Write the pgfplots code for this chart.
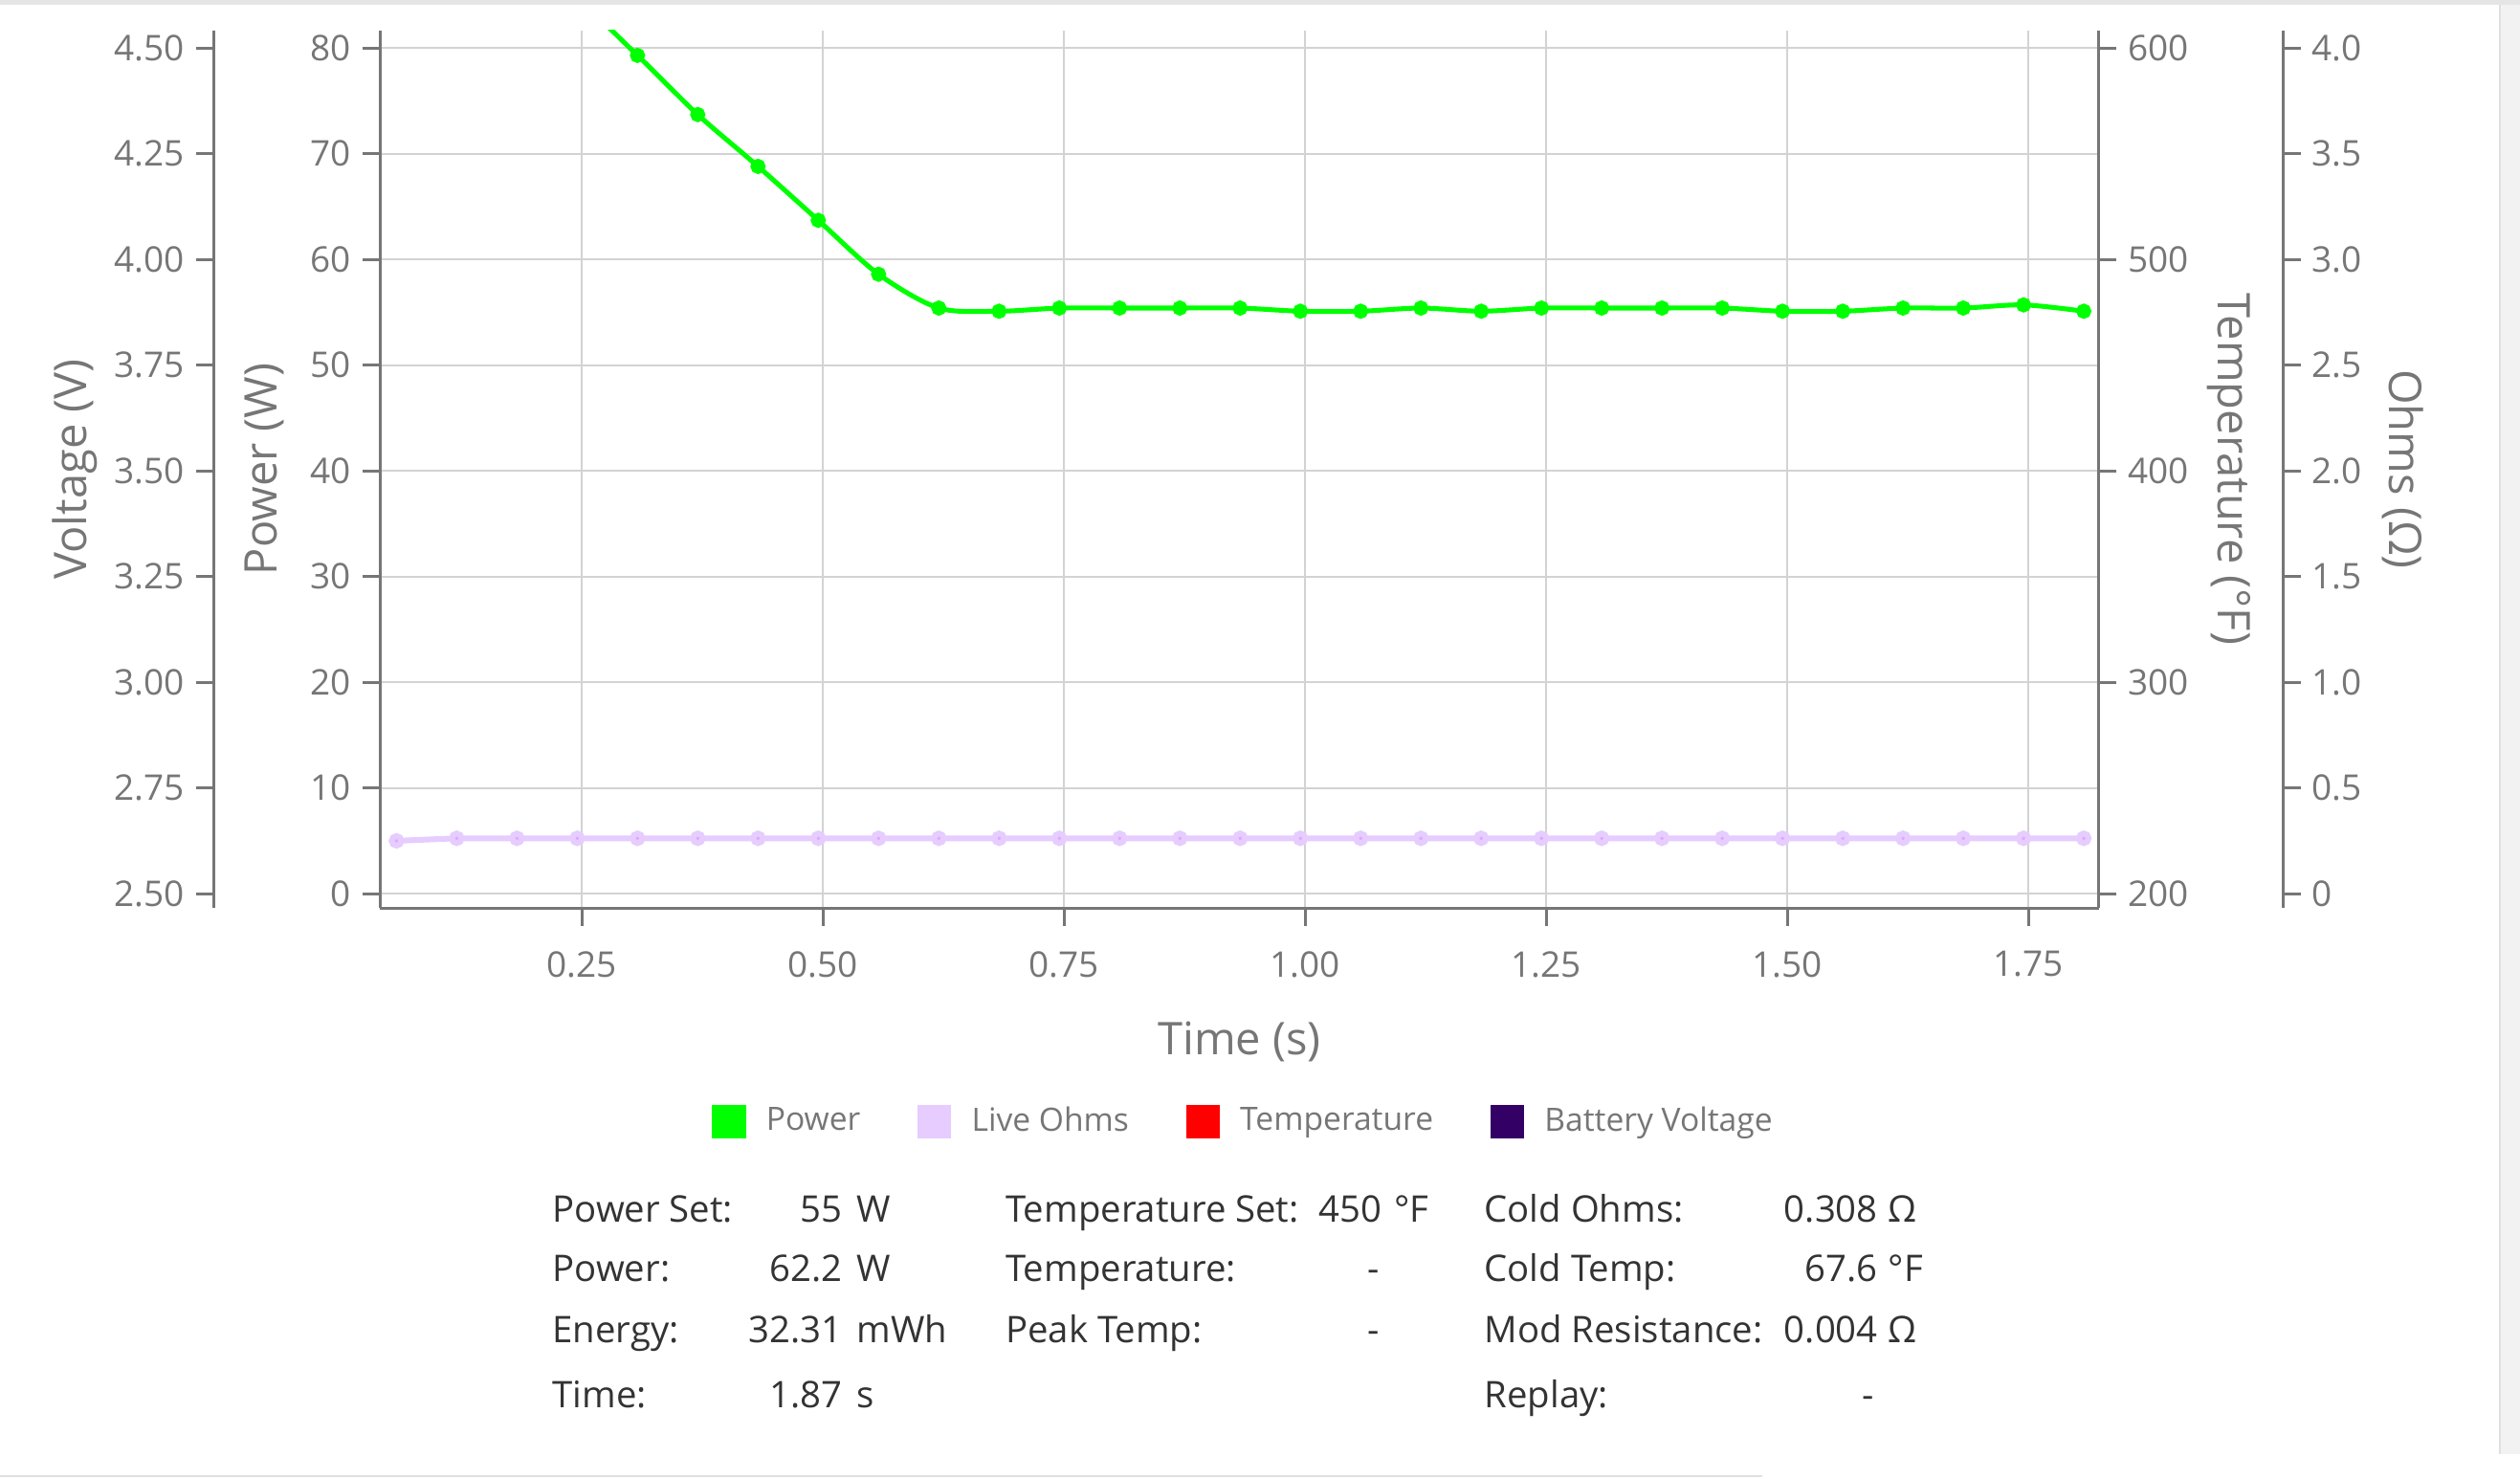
\documentclass[border=0pt]{standalone}
\usepackage{fontspec}
\setmainfont{Open Sans}
\usepackage{pgfplots}
\pgfplotsset{compat=1.18}
\definecolor{axgray}{HTML}{767676}
\definecolor{gridgray}{HTML}{D3D3D3}
\definecolor{pgreen}{HTML}{00FF00}
\definecolor{ohmline}{HTML}{E6CCFF}
\definecolor{ohmmark}{HTML}{D7ABFF}
\definecolor{tred}{HTML}{FF0000}
\definecolor{bvolt}{HTML}{330066}
\definecolor{infotext}{HTML}{333333}
\newcommand{\tickfont}{\fontsize{11}{13}\selectfont}
\newcommand{\legfont}{\fontsize{10}{12}\selectfont}
\newcommand{\labfont}{\fontsize{14}{16}\selectfont}
\newcommand{\infofont}{\fontsize{11.4}{13}\selectfont}

\pgfplotsset{
  myaxis/.style={
    scale only axis, width=534.75pt, height=273pt,
    xmin=0.0406, xmax=1.8233,
    anchor=south west,
    axis line style={axgray, line width=0.9pt},
    every tick/.style={axgray, line width=0.9pt},
    tick align=outside, major tick length=5.5pt,
    ticklabel style={font=\tickfont, text=axgray},
    /pgf/number format/assume math mode=true,
  },
}

\pgfplotstableread{
t P
0.0576 89.0
0.1201 89.0
0.1826 88.0
0.2451 84.6
0.3076 79.3
0.3701 73.7
0.4326 68.8
0.4951 63.7
0.5576 58.6
0.6201 55.4
0.6826 55.1
0.7451 55.4
0.8076 55.4
0.8701 55.4
0.9326 55.4
0.9951 55.1
1.0576 55.1
1.1201 55.4
1.1826 55.1
1.2451 55.4
1.3076 55.4
1.3701 55.4
1.4326 55.4
1.4951 55.1
1.5576 55.1
1.6201 55.4
1.6826 55.4
1.7451 55.7
1.8076 55.1
}\powertable

\pgfplotstableread{
t R
0.0576 0.250
0.1201 0.262
0.1826 0.262
0.2451 0.262
0.3076 0.262
0.3701 0.262
0.4326 0.262
0.4951 0.262
0.5576 0.262
0.6201 0.262
0.6826 0.262
0.7451 0.262
0.8076 0.262
0.8701 0.262
0.9326 0.262
0.9951 0.262
1.0576 0.262
1.1201 0.262
1.1826 0.262
1.2451 0.262
1.3076 0.262
1.3701 0.262
1.4326 0.262
1.4951 0.262
1.5576 0.262
1.6201 0.262
1.6826 0.262
1.7451 0.262
1.8076 0.262
}\ohmstable

\begin{document}
\begin{tikzpicture}
\path[use as bounding box] (-118.25pt,-177.5pt) rectangle (665.75pt,282.5pt);
% window frame artifacts
\fill[black!10] (-118.25pt,282.5pt) rectangle (665.75pt,281pt);
\fill[black!5] (659.5pt,-170pt) rectangle (665.75pt,281pt);
\draw[black!12, line width=0.8pt] (659.5pt,-170pt) -- (659.5pt,281pt);
\draw[black!12, line width=0.8pt] (-118.25pt,-176.8pt) -- (430pt,-176.8pt);

% Power axis (main)
\begin{axis}[myaxis, at={(0,0)},
  axis x line*=bottom, axis y line*=left,
  ymin=-1.35, ymax=81.65, ytick={0,10,...,80},
  xtick={0.25,0.5,0.75,1,1.25,1.5,1.75},
  xticklabel style={yshift=-4.5pt, /pgf/number format/.cd, fixed, fixed zerofill, precision=2},
  grid=major, grid style={gridgray, line width=0.6pt},
  xlabel={Time (s)}, ylabel={Power (W)},
  every axis y label/.style={at={(axis description cs:-0.0671,0.5)}, rotate=90, anchor=center, font=\labfont, text=axgray},
  every axis x label/.style={at={(axis description cs:0.5,-0.1675)}, anchor=base, font=\labfont, text=axgray},
  legend image code/.code={\fill[#1] (0pt,-5.25pt) rectangle (10.5pt,5.25pt);},
  legend columns=4,
  legend style={at={(axis description cs:0.5035,-0.2435)}, anchor=center, draw=none, fill=none,
    font=\legfont, text=axgray,
    /tikz/every odd column/.append style={column sep=4.3pt},
    /tikz/every even column/.append style={column sep=15.8pt}},
]
\addplot[pgreen, line width=1.5pt, smooth, mark=*, mark size=1.6pt, forget plot]
  table[x=t, y=P] {\powertable};
\addlegendimage{fill=pgreen, draw=none}
\addlegendentry{Power}
\addlegendimage{fill=ohmline, draw=none}
\addlegendentry{Live Ohms}
\addlegendimage{fill=tred, draw=none}
\addlegendentry{Temperature}
\addlegendimage{fill=bvolt, draw=none}
\addlegendentry{Battery Voltage}
\end{axis}

% Ohms data axis (hidden)
\begin{axis}[myaxis, at={(0,0)}, hide axis,
  ymin=-0.0675, ymax=4.0825]
\addplot[ohmline, line width=1.8pt, mark=*, mark size=1.5pt,
  mark options={fill=ohmmark, draw=none}]
  table[x=t, y=R] {\ohmstable};
\end{axis}

% Voltage axis (outer left)
\begin{axis}[myaxis, at={(-51.75pt,0)}, hide x axis, axis y line*=left,
  ymin=2.46625, ymax=4.54125, ytick={2.5,2.75,3,3.25,3.5,3.75,4,4.25,4.5},
  yticklabel style={/pgf/number format/.cd, fixed, fixed zerofill, precision=2},
  ylabel={Voltage (V)},
  every axis y label/.style={at={(axis description cs:-0.0808,0.5)}, rotate=90, anchor=center, font=\labfont, text=axgray}]
\end{axis}

% Temperature axis (inner right)
\begin{axis}[myaxis, at={(0,0)}, hide x axis, axis y line*=right,
  ymin=193.25, ymax=608.25, ytick={200,300,...,600},
  ylabel={Temperature (°F)},
  every axis y label/.style={at={(axis description cs:1.0757,0.5)}, rotate=-90, anchor=center, font=\labfont, text=axgray}]
\end{axis}

% Ohms axis (outer right)
\begin{axis}[myaxis, at={(57.2pt,0)}, hide x axis, axis y line*=right,
  ymin=-0.0675, ymax=4.0825, ytick={0,0.5,...,4},
  yticklabels={0,0.5,1.0,1.5,2.0,2.5,3.0,3.5,4.0},
  ylabel={Ohms (Ω)},
  every axis y label/.style={at={(axis description cs:1.0697,0.5)}, rotate=-90, anchor=center, font=\labfont, text=axgray}]
\end{axis}

% info block
\begin{scope}[every node/.style={font=\infofont, text=infotext, inner sep=0pt}]
\node[anchor=base west] at (53.5pt,-97.65pt) {Power Set:};
\node[anchor=base east] at (144pt,-97.65pt) {55};
\node[anchor=base west] at (148.15pt,-97.65pt) {W};
\node[anchor=base west] at (53.5pt,-116.3pt) {Power:};
\node[anchor=base east] at (144pt,-116.3pt) {62.2};
\node[anchor=base west] at (148.15pt,-116.3pt) {W};
\node[anchor=base west] at (53.5pt,-135.15pt) {Energy:};
\node[anchor=base east] at (144pt,-135.15pt) {32.31};
\node[anchor=base west] at (148.15pt,-135.15pt) {mWh};
\node[anchor=base west] at (53.5pt,-155.5pt) {Time:};
\node[anchor=base east] at (144pt,-155.5pt) {1.87};
\node[anchor=base west] at (148.15pt,-155.5pt) {s};

\node[anchor=base west] at (194.5pt,-97.65pt) {Temperature Set:};
\node[anchor=base east] at (311.9pt,-97.65pt) {450};
\node[anchor=base west] at (315.25pt,-97.65pt) {°F};
\node[anchor=base west] at (194.5pt,-116.3pt) {Temperature:};
\node[anchor=base east] at (311pt,-116.3pt) {-};
\node[anchor=base west] at (194.5pt,-135.15pt) {Peak Temp:};
\node[anchor=base east] at (311pt,-135.15pt) {-};

\node[anchor=base west] at (343.4pt,-97.65pt) {Cold Ohms:};
\node[anchor=base east] at (466.15pt,-97.65pt) {0.308};
\node[anchor=base west] at (469pt,-97.65pt) {Ω};
\node[anchor=base west] at (343.4pt,-116.3pt) {Cold Temp:};
\node[anchor=base east] at (466.15pt,-116.3pt) {67.6};
\node[anchor=base west] at (469pt,-116.3pt) {°F};
\node[anchor=base west] at (343.4pt,-135.15pt) {Mod Resistance:};
\node[anchor=base east] at (466.15pt,-135.15pt) {0.004};
\node[anchor=base west] at (469pt,-135.15pt) {Ω};
\node[anchor=base west] at (343.4pt,-155.5pt) {Replay:};
\node[anchor=base east] at (465pt,-155.5pt) {-};
\end{scope}
\end{tikzpicture}
\end{document}
